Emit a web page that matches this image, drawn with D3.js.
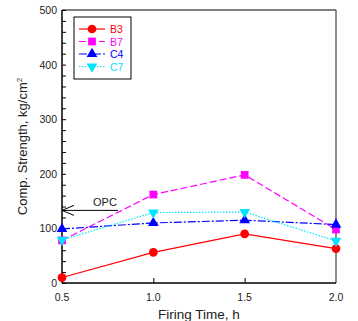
<!DOCTYPE html>
<html>
<head>
<meta charset="utf-8">
<script src="https://cdn.jsdelivr.net/npm/d3@7"></script>
<style>
body { margin: 0; background: #fff; }
text { font-family: "Liberation Sans", Arial, sans-serif; }
</style>
</head>
<body>
<div id="chart"></div>
<script>
var W = 358, H = 321;

// firing time (h)
var times = [0.5, 1.0, 1.5, 2.0];
var xTicks = [0.5, 1.0, 1.5, 2.0];
var yTicks = [0, 100, 200, 300, 400, 500];

// compressive strength, kg/cm2
var b3 = [10, 56, 90, 63];
var b7 = [78, 162, 198, 98];
var c4 = [99, 110, 115, 107];
var c7 = [79, 129, 130, 77];
var opc = 133;

var series = [
	{name: "B3", values: b3, color: "#ff0000", dash: null, shape: d3.symbolCircle, size: 60},
	{name: "B7", values: b7, color: "#ff00ff", dash: "7,3", shape: d3.symbolSquare, size: 60},
	{name: "C4", values: c4, color: "#0000ff", dash: "8,2,2,2", shape: d3.symbolTriangle, size: 50},
	{name: "C7", values: c7, color: "#00e5ff", dash: "1.5,1.5", shape: d3.symbolTriangle, size: 50, flip: true}
];

var m = {left: 62, right: 22, top: 10, bottom: 38};

var svg = d3.select("#chart").append("svg")
	.attr("width", W)
	.attr("height", H);

var x = d3.scaleLinear().domain([0.5, 2.0]).range([m.left, W - m.right]);
var y = d3.scaleLinear().domain([0, 500]).range([H - m.bottom, m.top]);

// frame: top and right in grey
svg.append("line")
	.attr("x1", x(0.5)).attr("x2", x(2.0))
	.attr("y1", y(500)).attr("y2", y(500))
	.attr("stroke", "#555").attr("stroke-width", 1.5);
svg.append("line")
	.attr("x1", x(2.0)).attr("x2", x(2.0))
	.attr("y1", y(500)).attr("y2", y(0))
	.attr("stroke", "#666").attr("stroke-width", 1.5);

// y axis, ticks inward
var yAxis = svg.append("g")
	.attr("transform", "translate(" + x(0.5) + ",0)")
	.call(d3.axisRight(y).tickValues(d3.range(0, 501, 20)).tickSize(4).tickFormat(""));
yAxis.select(".domain").remove();
yAxis.selectAll("line").attr("stroke", "#000");

svg.append("g").selectAll("text")
	.data(yTicks)
	.enter().append("text")
		.attr("x", x(0.5) - 5)
		.attr("y", function(d) { return y(d) + 4; })
		.attr("text-anchor", "end")
		.attr("font-size", 10.5)
		.attr("fill", "#222")
		.text(function(d) { return d; });

// x axis, ticks inward
var xAxis = svg.append("g")
	.attr("transform", "translate(0," + y(0) + ")")
	.call(d3.axisTop(x).tickValues([1.0, 1.5]).tickSize(5).tickFormat(""));
xAxis.select(".domain").remove();
xAxis.selectAll("line").attr("stroke", "#000");

svg.append("g").selectAll("text")
	.data(xTicks)
	.enter().append("text")
		.attr("x", function(d) { return x(d); })
		.attr("y", y(0) + 18)
		.attr("text-anchor", "middle")
		.attr("font-size", 10.5)
		.attr("fill", "#222")
		.text(function(d) { return d.toFixed(1); });

// left and bottom axis lines
svg.append("line")
	.attr("x1", x(0.5)).attr("x2", x(0.5))
	.attr("y1", y(500)).attr("y2", y(0))
	.attr("stroke", "#000").attr("stroke-width", 1.5);
svg.append("line")
	.attr("x1", x(0.5)).attr("x2", x(2.0))
	.attr("y1", y(0)).attr("y2", y(0))
	.attr("stroke", "#000").attr("stroke-width", 1.5);

// axis titles
svg.append("text")
	.attr("x", (x(0.5) + x(2.0)) / 2)
	.attr("y", H - 2)
	.attr("text-anchor", "middle")
	.attr("font-size", 13.5)
	.attr("fill", "#222")
	.text("Firing Time, h");

var yt = svg.append("text")
	.attr("transform", "translate(27," + ((y(0) + y(500)) / 2) + ") rotate(-90)")
	.attr("text-anchor", "middle")
	.attr("font-size", 13)
	.attr("fill", "#222");
yt.append("tspan").text("Comp. Strength, kg/cm");
yt.append("tspan").attr("dy", -5).attr("font-size", 8).text("2");

// OPC reference arrow
var ax0 = x(0.5), ax1 = x(0.5) + 56, ay = y(opc);
svg.append("line")
	.attr("x1", ax0).attr("x2", ax1)
	.attr("y1", ay).attr("y2", ay)
	.attr("stroke", "#000").attr("stroke-width", 1);
svg.append("path")
	.attr("d", "M" + (ax0 + 12) + "," + (ay - 5) + "L" + ax0 + "," + ay + "L" + (ax0 + 12) + "," + (ay + 5))
	.attr("fill", "none").attr("stroke", "#000").attr("stroke-width", 1);
svg.append("text")
	.attr("x", ax0 + 31)
	.attr("y", ay - 4)
	.attr("font-size", 11)
	.attr("fill", "#222")
	.text("OPC");

// series
var line = d3.line()
	.x(function(d, i) { return x(times[i]); })
	.y(function(d) { return y(d); });

series.forEach(function(s) {
	svg.append("path")
		.attr("d", line(s.values))
		.attr("fill", "none")
		.attr("stroke", s.color)
		.attr("stroke-width", 1.2)
		.attr("stroke-dasharray", s.dash);
	svg.append("g").selectAll("path")
		.data(s.values)
		.enter().append("path")
			.attr("d", d3.symbol().type(s.shape).size(s.size))
			.attr("transform", function(d, i) {
				return "translate(" + x(times[i]) + "," + y(d) + ")" + (s.flip ? " rotate(180)" : "");
			})
			.attr("fill", s.color);
});

// legend
var lg = svg.append("g").attr("transform", "translate(74,17)");
lg.append("rect")
	.attr("width", 57).attr("height", 62)
	.attr("fill", "#fff").attr("stroke", "#000").attr("stroke-width", 1);
series.forEach(function(s, i) {
	var ly = 12 + i * 12.5;
	lg.append("line")
		.attr("x1", 5).attr("x2", 31)
		.attr("y1", ly).attr("y2", ly)
		.attr("stroke", s.color).attr("stroke-width", 1.2)
		.attr("stroke-dasharray", s.dash);
	lg.append("path")
		.attr("d", d3.symbol().type(s.shape).size(s.size))
		.attr("transform", "translate(18," + ly + ")" + (s.flip ? " rotate(180)" : ""))
		.attr("fill", s.color);
	lg.append("text")
		.attr("x", 36).attr("y", ly + 4)
		.attr("font-size", 10.5)
		.attr("fill", s.color)
		.text(s.name);
});
</script>
</body>
</html>
